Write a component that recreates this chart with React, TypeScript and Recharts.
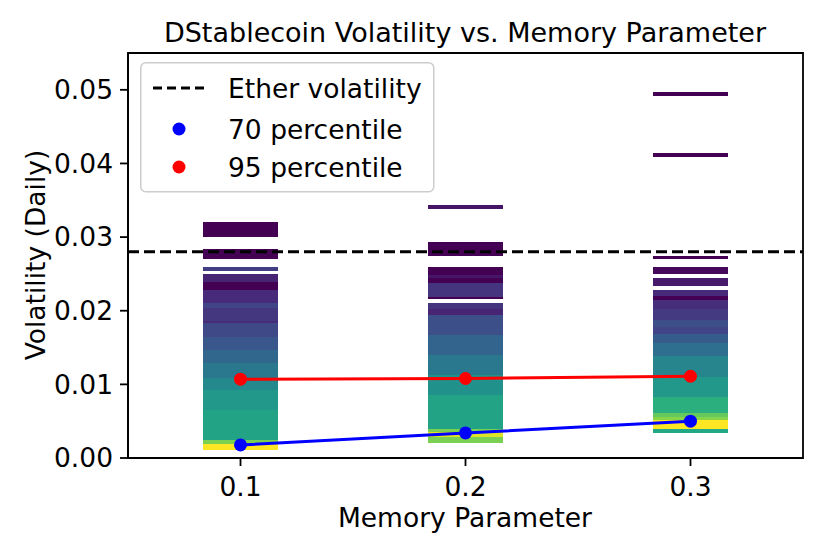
import React from "react";
import {
  ComposedChart,
  XAxis,
  YAxis,
  Line,
  ReferenceArea,
  ReferenceLine,
} from "recharts";

// memory parameter values on the x axis
const memoryParams = [0.1, 0.2, 0.3];

// simulated daily volatility bands per memory parameter: [low, high, density]
// density is the colormap position (0 = sparse/purple, 1 = dense/yellow)
const bandsMem01: [number, number, number][] = [
  [0.03, 0.0321, 0.0],
  [0.027, 0.0284, 0.0],
  [0.0254, 0.0259, 0.18],
  [0.0239, 0.025, 0.1],
  [0.0228, 0.0239, 0.0],
  [0.0211, 0.0228, 0.12],
  [0.0204, 0.0211, 0.2],
  [0.0186, 0.0204, 0.16],
  [0.0183, 0.0186, 0.12],
  [0.0164, 0.0183, 0.22],
  [0.0147, 0.0164, 0.27],
  [0.0129, 0.0147, 0.33],
  [0.0109, 0.0129, 0.4],
  [0.0092, 0.0109, 0.47],
  [0.0065, 0.0092, 0.53],
  [0.0024, 0.0065, 0.58],
  [0.0019, 0.0024, 0.8],
  [0.0011, 0.0019, 1.0],
];

const bandsMem02: [number, number, number][] = [
  [0.0338, 0.0343, 0.05],
  [0.0275, 0.0293, 0.0],
  [0.0249, 0.026, 0.0],
  [0.0244, 0.0249, 0.06],
  [0.0238, 0.0244, 0.0],
  [0.0219, 0.0238, 0.15],
  [0.0216, 0.0219, 0.0],
  [0.0203, 0.021, 0.15],
  [0.0194, 0.0203, 0.1],
  [0.0167, 0.0194, 0.24],
  [0.014, 0.0167, 0.32],
  [0.0113, 0.014, 0.4],
  [0.0086, 0.0113, 0.5],
  [0.004, 0.0086, 0.58],
  [0.0035, 0.004, 0.8],
  [0.0028, 0.0035, 0.95],
  [0.0021, 0.0028, 0.8],
];

const bandsMem03: [number, number, number][] = [
  [0.0492, 0.0497, 0.0],
  [0.0409, 0.0414, 0.0],
  [0.027, 0.0275, 0.0],
  [0.025, 0.0259, 0.02],
  [0.0234, 0.0244, 0.07],
  [0.022, 0.0228, 0.12],
  [0.0215, 0.022, 0.0],
  [0.0203, 0.0215, 0.13],
  [0.0188, 0.0203, 0.17],
  [0.0178, 0.0188, 0.24],
  [0.0169, 0.0178, 0.2],
  [0.0156, 0.0169, 0.29],
  [0.0138, 0.0156, 0.36],
  [0.011, 0.0138, 0.45],
  [0.0083, 0.011, 0.53],
  [0.0061, 0.0083, 0.63],
  [0.0056, 0.0061, 0.76],
  [0.0051, 0.0056, 0.82],
  [0.004, 0.0051, 1.0],
  [0.0034, 0.004, 0.6],
];

const pct70 = [0.00177, 0.0034, 0.005];
const pct95 = [0.0107, 0.0108, 0.0111];
const ETHER_VOL = 0.028;

const yTicks = [0, 0.01, 0.02, 0.03, 0.04, 0.05];
const xTicks = [0.1, 0.2, 0.3];

const VIRIDIS = [
  "#440154", "#482475", "#414487", "#355f8d", "#2a788e", "#21918c",
  "#22a884", "#44bf70", "#7ad151", "#bddf26", "#fde725",
];

function hexToRgb(h: string) {
  return [1, 3, 5].map((i) => parseInt(h.slice(i, i + 2), 16));
}

function viridis(t: number) {
  const s = Math.max(0, Math.min(1, t)) * (VIRIDIS.length - 1);
  const i = Math.min(Math.floor(s), VIRIDIS.length - 2);
  const f = s - i;
  const a = hexToRgb(VIRIDIS[i]);
  const b = hexToRgb(VIRIDIS[i + 1]);
  const c = a.map((v, k) => Math.round(v + (b[k] - v) * f));
  return `rgb(${c[0]},${c[1]},${c[2]})`;
}

const HALF_W = 0.0167;
const FONT = "DejaVu Sans";
const FS = 26.5;

const allBands = [bandsMem01, bandsMem02, bandsMem03].flatMap((bands, i) =>
  bands.map(([lo, hi, d]) => ({ x: memoryParams[i], lo, hi, d }))
);
const p70Data = memoryParams.map((x, i) => ({ x, v: pct70[i] }));
const p95Data = memoryParams.map((x, i) => ({ x, v: pct95[i] }));

export default function App() {
  return (
    <div style={{ position: "relative", width: 822, height: 546, fontFamily: FONT }}>
      <ComposedChart
        width={822}
        height={546}
        margin={{ top: 45, right: 27, bottom: 36, left: 0 }}
      >
        <XAxis
          dataKey="x"
          type="number"
          domain={[0.05, 0.35]}
          ticks={xTicks}
          tickFormatter={(v) => v.toFixed(1)}
          height={60}
          tickSize={8}
          tickMargin={11}
          axisLine={{ stroke: "#000", strokeWidth: 1.8 }}
          tickLine={{ stroke: "#000", strokeWidth: 1.8 }}
          tick={{ fill: "#000", fontSize: FS, fontFamily: FONT }}
          allowDataOverflow
        />
        <YAxis
          type="number"
          domain={[0, 0.055]}
          ticks={yTicks}
          tickFormatter={(v) => v.toFixed(2)}
          width={120}
          tickSize={8}
          tickMargin={7}
          axisLine={{ stroke: "#000", strokeWidth: 1.8 }}
          tickLine={{ stroke: "#000", strokeWidth: 1.8 }}
          tick={{ fill: "#000", fontSize: FS, fontFamily: FONT }}
          allowDataOverflow
        />
        {allBands.map((b, i) => (
          <ReferenceArea
            key={i}
            x1={b.x - HALF_W}
            x2={b.x + HALF_W}
            y1={b.lo}
            y2={b.hi}
            fill={viridis(b.d)}
            fillOpacity={1}
            stroke="none"
            shapeRendering="crispEdges"
          />
        ))}
        <ReferenceLine
          y={ETHER_VOL}
          stroke="#000"
          strokeWidth={3}
          strokeDasharray="11 5"
        />
        <Line
          data={p95Data}
          dataKey="v"
          type="linear"
          stroke="#ff0000"
          strokeWidth={3}
          dot={{ r: 6.5, fill: "#ff0000", stroke: "none" }}
          isAnimationActive={false}
        />
        <Line
          data={p70Data}
          dataKey="v"
          type="linear"
          stroke="#0000ff"
          strokeWidth={3}
          dot={{ r: 6.5, fill: "#0000ff", stroke: "none" }}
          isAnimationActive={false}
        />
        <ReferenceArea
          x1={0.05}
          x2={0.35}
          y1={0}
          y2={0.055}
          fill="none"
          stroke="#000"
          strokeWidth={1.8}
        />
      </ComposedChart>

      <svg
        width={822}
        height={546}
        style={{ position: "absolute", left: 0, top: 0, pointerEvents: "none" }}
        fontFamily={FONT}
        fontSize={FS}
      >
        <text x={457} y={34} textAnchor="middle" fill="#000" fontSize={27}>
          DStablecoin Volatility vs. Memory Parameter
        </text>
        <text x={457} y={519} textAnchor="middle" fill="#000">
          Memory Parameter
        </text>
        <text
          x={0}
          y={0}
          transform="translate(37,247) rotate(-90)"
          textAnchor="middle"
          fill="#000"
        >
          Volatility (Daily)
        </text>
        <g transform="translate(132,54)">
          <rect
            x={0.75}
            y={0.75}
            width={293}
            height={129}
            rx={5}
            fill="#fff"
            fillOpacity={0.8}
            stroke="#cccccc"
            strokeWidth={1.5}
          />
          <line x1={13} x2={65} y1={26} y2={26} stroke="#000" strokeWidth={3} strokeDasharray="9 5" />
          <text x={88} y={36}>Ether volatility</text>
          <circle cx={39} cy={67} r={6.5} fill="#0000ff" />
          <text x={88} y={77}>70 percentile</text>
          <circle cx={39} cy={105} r={6.5} fill="#ff0000" />
          <text x={88} y={115}>95 percentile</text>
        </g>
      </svg>
    </div>
  );
}
